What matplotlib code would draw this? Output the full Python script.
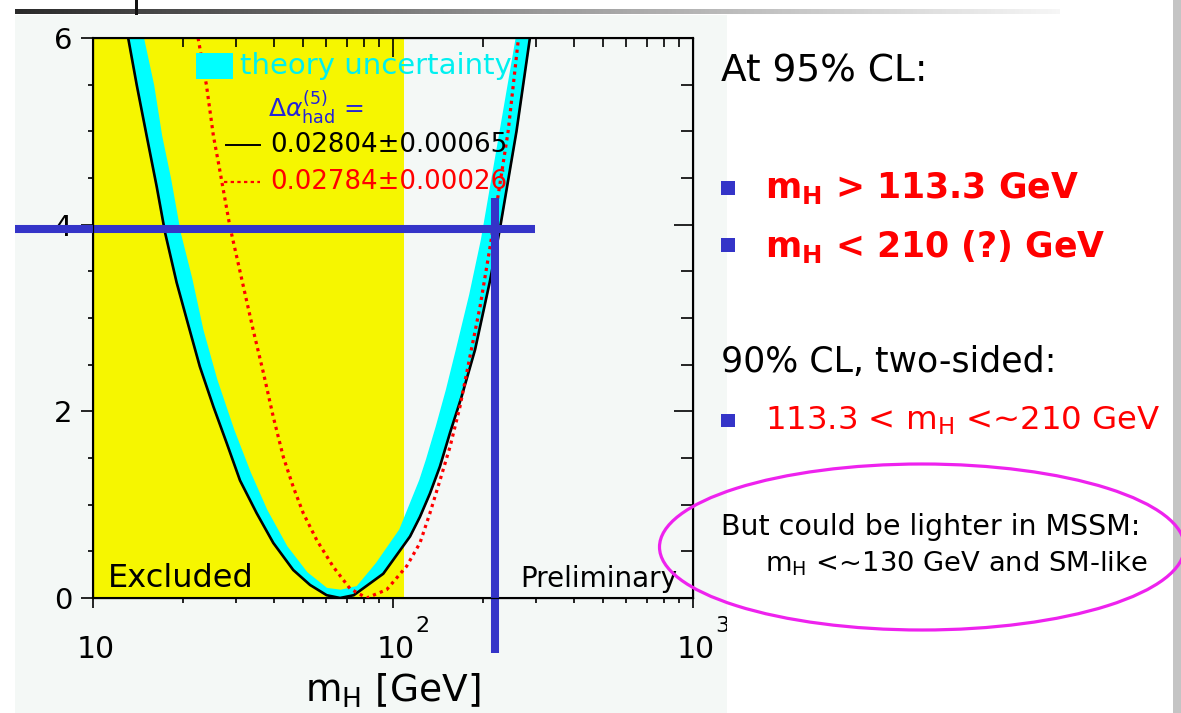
import matplotlib
matplotlib.use('Agg')
import matplotlib.pyplot as plt
import numpy as np
from matplotlib.patches import Rectangle, Ellipse
from matplotlib.lines import Line2D
from matplotlib.colors import LinearSegmentedColormap
from matplotlib.ticker import MultipleLocator, NullFormatter
from matplotlib.transforms import offset_copy

plt.rcParams['font.family'] = ['DejaVu Sans']
plt.rcParams['mathtext.fontset'] = 'dejavusans'

# delta chi2 vs m_H, alpha_had = 0.02804 (solid black)
mh_black = [13.1, 14.0, 15.1, 16.3, 17.4, 19.0, 20.8, 22.7, 25.2, 27.9, 30.9, 35.1,
            39.9, 46.5, 52.9, 60.1, 66.6, 74.0, 92.8, 114, 123, 132.8, 143.4, 154.9,
            169.4, 187.7, 210.6, 227, 258, 286]
chi2_black = [6.0, 5.49, 4.95, 4.41, 3.91, 3.38, 2.92, 2.48, 2.05, 1.66, 1.26, 0.91,
              0.59, 0.30, 0.14, 0.03, 0.0, 0.03, 0.26, 0.66, 0.87, 1.12, 1.41, 1.77,
              2.16, 2.66, 3.40, 3.95, 5.0, 6.0]

# outer edge of the theory uncertainty band
mh_band = [14.7, 15.9, 16.9, 18.1, 19.5, 21.3, 23.2, 25.8, 29.4, 33.4, 37.9, 44.2,
           51.6, 60.1, 67, 76, 88.2, 105.5, 123, 129.5, 139.8, 151, 163, 180.6,
           197.6, 258]
chi2_band = [6.0, 5.49, 4.95, 4.49, 3.91, 3.42, 2.87, 2.34, 1.80, 1.34, 0.94, 0.55,
             0.27, 0.10, 0.08, 0.12, 0.37, 0.73, 1.26, 1.48, 1.84, 2.23, 2.66, 3.25,
             3.84, 6.0]

# delta chi2 vs m_H, alpha_had = 0.02784 (red dotted)
mh_red = [22.4, 23.9, 25.2, 26.2, 28.6, 34.2, 37.0, 39.9, 43.1, 46.5, 50.2, 55.7,
          63.2, 71.9, 81.7, 95.3, 111, 123, 132.8, 143.4, 154.9, 167.2, 180.6,
          195, 210.6, 242, 262]
chi2_red = [6.0, 5.49, 4.95, 4.66, 3.98, 2.87, 2.41, 1.94, 1.51, 1.19, 0.91, 0.62,
            0.335, 0.10, 0.0, 0.09, 0.34, 0.59, 0.91, 1.26, 1.62, 2.05, 2.59,
            3.12, 3.76, 5.0, 6.0]

excluded_limit = 109      # end of yellow region
cl95_dchi2 = 3.95         # blue horizontal marker
mh_upper = 218            # blue vertical marker

x_ticks = [10, 100, 1000]
x_tick_exp = ['', '2', '3']
y_ticks = [0, 2, 4, 6]

legend_black = '0.02804\u00b10.00065'
legend_red = '0.02784\u00b10.00026'

W, H = 1181, 713
BLUE = '#3434c8'
BG = '#f4f8f6'


def fx(px):
    return px / W


def fy(py):
    return 1 - py / H


fig = plt.figure(figsize=(W / 100, H / 100), dpi=100)
fig.patch.set_facecolor('white')

# pasted plot background
fig.add_artist(Rectangle((fx(15), 0), fx(727) - fx(15), fy(15), transform=fig.transFigure,
                         facecolor=BG, edgecolor='none', zorder=-2))
# slide decorations
bar = fig.add_axes([fx(15), fy(14), fx(1060) - fx(15), 5 / H])
bar.imshow(np.linspace(0, 1, 256)[None, :], aspect='auto',
           cmap=LinearSegmentedColormap.from_list('bar', ['#2a2a2a', '#999999', '#f6f6f6']))
bar.axis('off')
bar.set_zorder(4)
fig.add_artist(Rectangle((fx(134.5), fy(15)), 3.5 / W, 15 / H, transform=fig.transFigure,
                         facecolor='#111111', edgecolor='none', zorder=5))
fig.add_artist(Rectangle((fx(1173), 0), 8 / W, 1, transform=fig.transFigure,
                         facecolor='#c4c4c4', edgecolor='none', zorder=3))

# main plot
ax = fig.add_axes([fx(93), fy(598), 600 / W, 560 / H])
ax.set_xscale('log')
ax.set_xlim(10, 1000)
ax.set_ylim(0, 6)
ax.set_facecolor(BG)
ax.axvspan(10, excluded_limit, color='#f6f600', lw=0, zorder=0)

ax.fill(np.r_[mh_black, mh_band[::-1]], np.r_[chi2_black, chi2_band[::-1]],
        facecolor='#00ffff', edgecolor='#00ffff', lw=1.2, zorder=2)
ax.plot(mh_black, chi2_black, color='black', lw=1.9, zorder=3)
ax.plot(mh_red, chi2_red, color='#ff0000', lw=2.3, ls=(0, (1, 1.3)), zorder=4)

for s in ax.spines.values():
    s.set_linewidth(1.5)
ax.set_xticks(x_ticks)
ax.set_xticklabels([])
ax.xaxis.set_minor_formatter(NullFormatter())
ax.set_yticks(y_ticks)
ax.yaxis.set_minor_locator(MultipleLocator(0.5))
ax.tick_params(axis='x', which='major', direction='out', length=7.2, width=1.2)
ax.tick_params(axis='x', which='minor', direction='out', length=3.6, width=1.2)
ax.tick_params(axis='y', which='major', direction='out', length=8.6, width=1.2,
               labelsize=21, pad=6.5)
ax.tick_params(axis='y', which='minor', direction='out', length=3.6, width=1.2)

ax_top = ax.twiny()
ax_top.set_xscale('log')
ax_top.set_xlim(10, 1000)
ax_top.set_xticks(x_ticks)
ax_top.set_xticklabels([])
ax_top.xaxis.set_minor_formatter(NullFormatter())
ax_top.tick_params(axis='x', which='major', direction='in', length=14, width=1.2)
ax_top.tick_params(axis='x', which='minor', direction='in', length=6.5, width=1.2)

ax_right = ax.twinx()
ax_right.set_ylim(0, 6)
ax_right.set_yticks(y_ticks)
ax_right.set_yticklabels([])
ax_right.yaxis.set_minor_locator(MultipleLocator(0.5))
ax_right.tick_params(axis='y', which='major', direction='in', length=14, width=1.2)
ax_right.tick_params(axis='y', which='minor', direction='in', length=8.6, width=1.2)

# x tick labels, PAW style
xtr = ax.get_xaxis_transform()
for v, e in zip(x_ticks, x_tick_exp):
    ax.text(v, -0.107, '10', transform=offset_copy(xtr, fig, x=2.5, units='dots'),
            ha='center', va='baseline', fontsize=21.5, clip_on=False)
    if e:
        ax.text(v, -0.107, e, transform=offset_copy(xtr, fig, x=22, y=26, units='dots'),
                ha='left', va='baseline', fontsize=16, clip_on=False)
ax.text(0.5, -0.186, r'm$_{\rm H}$ [GeV]', transform=ax.transAxes, ha='center',
        va='baseline', fontsize=27)

# legend
ax.add_patch(Rectangle((0.1717, 0.9268), 0.0617, 0.0464, transform=ax.transAxes,
                       facecolor='#00ffff', edgecolor='none', zorder=5))
ax.text(0.245, 0.95, 'theory uncertainty', transform=ax.transAxes, color='#00f0f0',
        fontsize=21, va='center', zorder=5)
ax.text(0.2917, 0.877, r'$\Delta\alpha^{(5)}_{\rm had}$ =', transform=ax.transAxes,
        color='#2424d8', fontsize=18, va='center', zorder=5)
ax.add_line(Line2D([0.2217, 0.2783], [0.809, 0.809], transform=ax.transAxes,
                   color='black', lw=1.4, zorder=5))
ax.text(0.295, 0.809, legend_black, transform=ax.transAxes, color='black',
        fontsize=18.7, va='center', zorder=5)
ax.add_line(Line2D([0.218, 0.2783], [0.743, 0.743], transform=ax.transAxes,
                   color='#ff0000', lw=1.6, ls=(0, (1.5, 1.5)), zorder=5))
ax.text(0.295, 0.743, legend_red, transform=ax.transAxes, color='#ff0000',
        fontsize=18.7, va='center', zorder=5)

ax.text(0.025, 0.0196, 'Excluded', transform=ax.transAxes, fontsize=23, va='baseline')
ax.text(0.973, 0.0196, 'Preliminary', transform=ax.transAxes, fontsize=20,
        va='baseline', ha='right')

# blue cross-hair
ax.plot([5.5, 297], [cl95_dchi2, cl95_dchi2], color=BLUE, lw=5.8,
        solid_capstyle='butt', clip_on=False, zorder=7)
ax.plot([mh_upper, mh_upper], [4.29, -0.59], color=BLUE, lw=5.8,
        solid_capstyle='butt', clip_on=False, zorder=7)

# right-hand slide text
fig.add_artist(Rectangle((fx(727), 0), fx(1173) - fx(727), 1, transform=fig.transFigure,
                         facecolor='white', edgecolor='none', zorder=1))
fig.text(fx(721), fy(82), 'At 95% CL:', fontsize=27, va='baseline', zorder=4)
for by in [188, 245, 420]:
    fig.add_artist(Rectangle((fx(721), fy(by + 6.5)), 14 / W, 13 / H,
                             transform=fig.transFigure, facecolor=BLUE,
                             edgecolor='none', zorder=4))
fig.text(fx(765), fy(198), r'$\mathbf{m}_\mathbf{H}$ > 113.3 GeV', fontsize=25,
         fontweight='bold', color='#ff0000', va='baseline', zorder=4)
fig.text(fx(765), fy(257), r'$\mathbf{m}_\mathbf{H}$ < 210 (?) GeV', fontsize=25,
         fontweight='bold', color='#ff0000', va='baseline', zorder=4)
fig.text(fx(721), fy(372), '90% CL, two-sided:', fontsize=25, va='baseline', zorder=4)
fig.text(fx(765), fy(430), r'113.3 < m$_{\rm H}$ <~210 GeV', fontsize=23.3,
         color='#ff0000', va='baseline', zorder=4)

fig.add_artist(Ellipse((fx(922), fy(547)), 525 / W, 166 / H, transform=fig.transFigure,
                       facecolor='none', edgecolor='#ee22ee', lw=2.3, zorder=5))
fig.text(fx(721), fy(535), 'But could be lighter in MSSM:', fontsize=20.5,
         va='baseline', zorder=4)
fig.text(fx(765), fy(572), r'm$_{\rm H}$ <~130 GeV and SM-like', fontsize=19.7,
         va='baseline', zorder=4)

fig.savefig('out.png', dpi=100)
